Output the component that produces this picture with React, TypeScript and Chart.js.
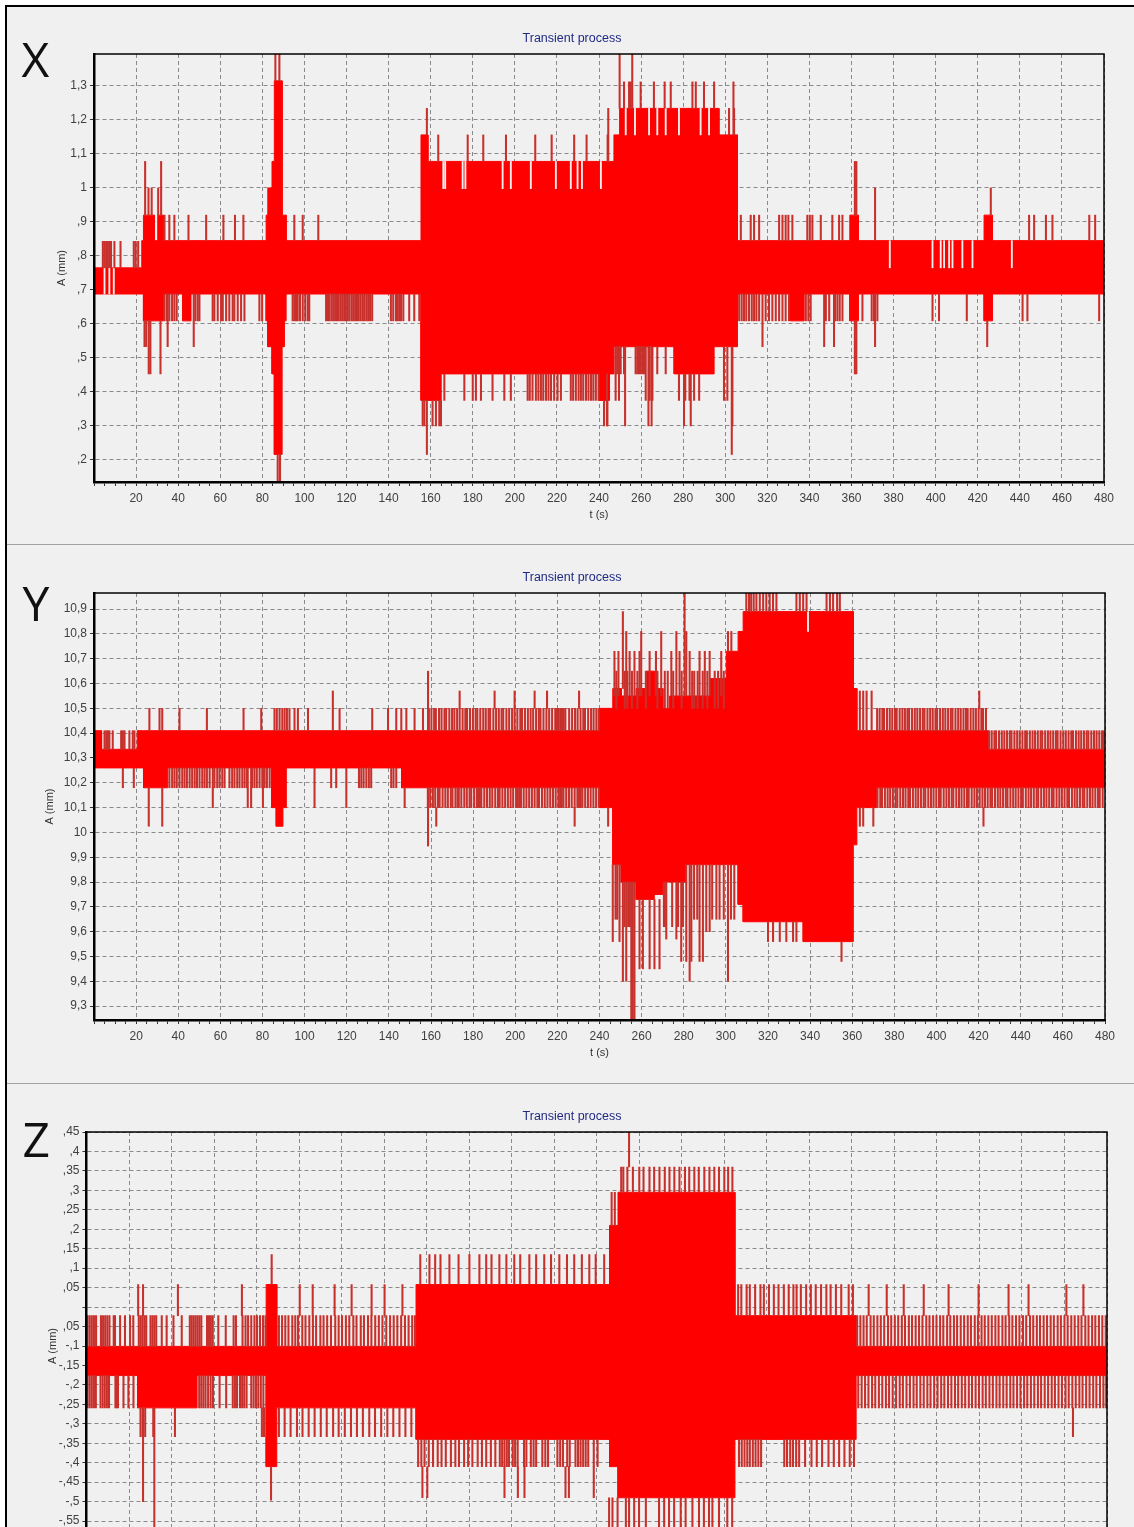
import React, { useEffect, useRef } from 'react';
import { Chart, registerables } from 'chart.js';

Chart.register(...registerables);

type Band = [number, number, number, number]; // [tStart, tEnd, low, high]
type Comb = [number, number, number[]]; // [low, high, times]

// ---------- common axis ----------
const TIME_LABELS = [20, 40, 60, 80, 100, 120, 140, 160, 180, 200, 220, 240, 260, 280, 300, 320, 340, 360, 380, 400, 420, 440, 460, 480];
const TIME_MIN = 0;
const TIME_MAX = 480;
const TIME_MINOR_STEP = 5;
const CHART_TITLE = 'Transient process';

// ---------- X ----------
const X_TICKS = [0.2, 0.3, 0.4, 0.5, 0.6, 0.7, 0.8, 0.9, 1.0, 1.1, 1.2, 1.3];
const X_TICK_LABELS = [',2', ',3', ',4', ',5', ',6', ',7', ',8', ',9', '1', '1,1', '1,2', '1,3'];
const X_RANGE = [0.135, 1.394];

const X_BANDS: Band[] = [
  [0, 22.7, 0.688, 0.765],
  [22.7, 23.5, 0.688, 0.845],
  [23.5, 28.7, 0.609, 0.92],
  [28.7, 30.3, 0.609, 0.845],
  [30.3, 33.0, 0.609, 0.92],
  [33.0, 42.2, 0.688, 0.845],
  [42.2, 46.1, 0.609, 0.845],
  [46.1, 81.8, 0.688, 0.845],
  [81.8, 82.6, 0.609, 0.92],
  [82.6, 84.6, 0.533, 1.0],
  [84.6, 85.7, 0.453, 1.078],
  [85.7, 89.4, 0.216, 1.315],
  [89.4, 90.5, 0.533, 0.92],
  [90.5, 91.3, 0.609, 0.92],
  [91.3, 155.4, 0.688, 0.845],
  [155.4, 158.7, 0.375, 1.156],
  [158.7, 165.0, 0.375, 1.078],
  [165.0, 240.0, 0.453, 1.078],
  [240.0, 245.0, 0.375, 1.078],
  [245.0, 247.1, 0.453, 1.078],
  [247.1, 249.8, 0.533, 1.156],
  [249.8, 275.7, 0.533, 1.234],
  [275.7, 294.7, 0.453, 1.234],
  [294.7, 297.0, 0.533, 1.234],
  [297.0, 305.8, 0.533, 1.156],
  [305.8, 331.0, 0.688, 0.845],
  [331.0, 337.5, 0.609, 0.845],
  [337.5, 359.2, 0.688, 0.845],
  [359.2, 363.3, 0.609, 0.92],
  [363.3, 423.0, 0.688, 0.845],
  [423.0, 427.0, 0.609, 0.92],
  [427.0, 480, 0.688, 0.845],
];

const X_COMBS: Comb[] = [
  [0.765, 0.843, [4.2, 5.0, 5.8, 6.6, 7.4, 8.1, 9.7, 12.6, 18.9, 19.8, 21.0]],
  [0.92, 1.078, [24.3, 31.9, 361.6, 362.3]],
  [0.92, 1.0, [25.9, 27.4, 30.5, 426.2]],
  [0.845, 0.92, [33.5, 35.8, 38.2, 44.9, 53.3, 61.5, 67.0, 71.0, 95.2, 99.2, 106.6,
    307.4, 312.1, 313.7, 316.1, 325.6, 327.2, 328.7, 330.0, 331.9, 339.0, 340.2, 341.4, 345.4, 350.9, 354.1, 355.7,
    444.4, 446.8, 452.4, 455.5, 473.0, 475.8]],
  [0.845, 1.0, [371.2]],
  [0.533, 0.609, [24.0, 24.8, 424.5]],
  [0.453, 0.609, [26.0, 26.8, 31.6, 361.6, 362.3]],
  [0.533, 0.688, [35.0, 47.4, 317.7, 347.0, 351.7, 371.2]],
  [0.609, 0.688, [33.5, 34.6, 35.8, 37.1, 38.2, 39.3, 48.2, 49.3, 50.1, 56.4, 57.2, 58.8, 60.4, 61.2, 62.8, 64.3,
    65.9, 66.7, 68.3, 69.9, 71.5, 78.6, 79.9, 94.4, 95.2, 96.0, 96.8, 97.9, 99.2, 100.4, 101.6, 102.3,
    110.3, 111.2, 112.0, 113.0, 113.8, 114.6, 115.5, 116.3, 117.2, 118.0, 118.9, 119.7, 120.6, 121.4, 122.4,
    123.2, 124.1, 125.0, 125.8, 126.7, 127.6, 128.4, 129.4, 130.3, 131.2, 132.2, 141.1, 142.2, 143.5, 144.3,
    145.1, 145.9, 147.0, 149.8, 152.2, 154.6,
    306.6, 307.8, 308.9, 310.0, 311.3, 312.6, 313.7, 314.8, 316.1, 319.2, 320.8, 322.4, 324.0, 325.6, 327.2,
    328.7, 330.3, 338.3, 339.5, 340.6, 347.8, 349.4, 352.2, 353.3, 354.4, 355.7, 365.2, 369.6, 370.7, 372.3,
    398.5, 401.6, 414.8, 441.3, 443.6, 477.7]],
  [1.315, 1.5, [86.2, 88.1]],
  [0.0, 0.216, [87.3, 88.4]],
  [1.078, 1.156, [163.6, 177.6, 185.0, 195.8, 209.7, 217.5, 228.2, 234.1, 244.1]],
  [1.078, 1.234, [244.4]],
  [1.156, 1.234, [158.2, 301.8, 304.2]],
  [1.234, 1.312, [251.9, 254.3, 255.1, 259.8, 266.1, 271.2, 274.1, 284.4, 286.0, 289.9, 294.7]],
  [1.156, 1.312, [303.9]],
  [1.234, 1.5, [249.8, 255.8]],
  [0.375, 0.453, [166.5, 176.0, 180.0, 181.5, 183.9, 189.4, 195.0, 198.1, 206.1, 207.1, 208.4, 210.0, 211.2,
    212.4, 213.5, 214.8, 216.0, 217.2, 218.7, 220.3, 221.9, 226.6, 227.7, 229.0, 230.3, 231.4, 232.5, 233.8,
    235.0, 236.2, 237.3, 238.5, 239.8, 278.0, 281.0, 283.0, 285.2, 287.6]],
  [0.30, 0.375, [156.2, 157.0, 160.9, 162.5, 164.1, 164.9, 242.4, 244.0]],
  [0.216, 0.375, [158.2]],
  [0.30, 0.453, [243.8, 280.4, 283.6]],
  [0.453, 0.533, [247.9, 248.7, 249.5, 250.3, 251.9, 257.4, 258.2, 259.0, 259.8, 260.6, 261.4, 267.7, 271.7]],
  [0.375, 0.533, [247.9, 249.5, 262.2, 264.1, 265.4, 299.4, 301.0]],
  [0.30, 0.533, [252.4, 263.5, 265.0, 303.4]],
  [0.216, 0.533, [303.1]],
];

const X_GAPS: Comb[] = [
  [0.688, 0.765, [5.0, 7.3, 9.4]],
  [0.998, 1.078, [166.0, 166.9, 175.2, 176.5, 194.2, 198.1, 207.6, 219.5, 226.6, 229.8, 231.9, 240.9]],
  [1.156, 1.234, [252.7, 257.1, 263.8, 267.7, 271.7, 278.0, 288.3, 292.3]],
  [0.765, 0.845, [378.2, 398.5, 402.4, 404.0, 406.4, 408.0, 412.7, 417.5, 436.2]],
];

// ---------- Y ----------
const Y_TICKS = [9.3, 9.4, 9.5, 9.6, 9.7, 9.8, 9.9, 10.0, 10.1, 10.2, 10.3, 10.4, 10.5, 10.6, 10.7, 10.8, 10.9];
const Y_TICK_LABELS = ['9,3', '9,4', '9,5', '9,6', '9,7', '9,8', '9,9', '10', '10,1', '10,2', '10,3', '10,4', '10,5', '10,6', '10,7', '10,8', '10,9'];
const Y_RANGE = [9.244, 10.965];

const Y_BANDS: Band[] = [
  [0, 3.6, 10.26, 10.41],
  [3.6, 20.5, 10.26, 10.335],
  [20.5, 23.5, 10.26, 10.41],
  [23.5, 35.0, 10.18, 10.41],
  [35.0, 84.4, 10.26, 10.41],
  [84.4, 86.5, 10.1, 10.41],
  [86.5, 89.7, 10.025, 10.41],
  [89.7, 91.3, 10.1, 10.41],
  [91.3, 146.0, 10.26, 10.41],
  [146.0, 240.0, 10.18, 10.41],
  [240.0, 246.3, 10.1, 10.5],
  [246.3, 250.3, 9.87, 10.58],
  [250.3, 257.4, 9.8, 10.55],
  [257.4, 262.2, 9.73, 10.58],
  [262.2, 266.0, 9.73, 10.65],
  [266.0, 270.1, 9.75, 10.58],
  [270.1, 273.3, 9.8, 10.5],
  [273.3, 281.2, 9.8, 10.55],
  [281.2, 292.3, 9.87, 10.55],
  [292.3, 300.2, 9.87, 10.62],
  [300.2, 305.8, 9.87, 10.73],
  [305.8, 308.2, 9.71, 10.81],
  [308.2, 336.7, 9.64, 10.89],
  [336.7, 360.5, 9.56, 10.89],
  [360.5, 362.2, 9.95, 10.58],
  [362.2, 371.5, 10.1, 10.41],
  [371.5, 424.5, 10.18, 10.41],
  [424.5, 480, 10.18, 10.335],
];

const Y_COMBS: Comb[] = [
  [10.335, 10.41, [5.0, 5.8, 6.6, 7.3, 8.9, 12.9, 13.7, 14.5, 16.8, 18.4, 19.2]],
  [10.18, 10.26, [13.7, 18.9, 35.8, 37.1, 38.2, 39.3, 40.6, 41.9, 43.0, 44.1, 45.4, 46.6, 47.8, 48.9, 50.1,
    51.4, 52.5, 53.6, 54.9, 57.2, 58.5, 59.6, 60.9, 62.0, 64.3, 65.6, 66.7, 68.0, 69.1, 70.4, 71.5, 72.6,
    75.1, 76.2, 77.3, 78.6, 79.9, 81.0, 82.1, 83.4, 112.6, 115.0, 125.8, 126.9, 128.0, 129.3, 130.5, 131.6,
    141.1, 142.2, 143.5]],
  [10.41, 10.5, [26.3, 31.1, 32.4, 40.6, 53.6, 71.0, 79.4, 85.7, 86.8, 88.1, 89.4, 90.5, 91.6, 92.8, 95.2, 96.8,
    101.6, 116.6, 132.1, 139.6, 143.5, 145.9, 148.3, 152.2, 156.2]],
  [10.41, 10.57, [113.4, 363.6, 365.2, 366.8, 369.2]],
  [10.1, 10.26, [56.4, 73.0, 74.6, 80.2, 104.7, 119.8]],
  [10.1, 10.18, [147.5]],
  [10.025, 10.18, [26.0, 32.4]],
  [9.945, 10.18, [158.6]],
  [10.41, 10.65, [158.6]],
  [10.41, 10.5, [159.0, 160.2, 161.5, 162.3, 163.8, 165.0, 166.4, 167.2, 168.7, 170.0, 171.1, 172.4, 173.6,
    175.0, 176.3, 177.1, 178.5, 179.9, 181.2, 182.0, 183.4, 184.8, 186.0, 187.3, 188.1, 189.6, 190.9, 192.2,
    193.5, 194.3, 195.8, 197.1, 198.5, 199.7, 201.0, 202.4, 203.2, 204.6, 206.0, 207.3, 208.5, 209.9, 211.2,
    212.0, 213.4, 214.8, 216.1, 217.5, 219.0, 219.8, 220.6, 221.4, 222.2, 223.0, 223.8, 225.6, 227.0, 228.4,
    229.6, 231.0, 232.3, 233.1, 234.6, 236.0, 237.2, 238.5, 239.6]],
  [10.1, 10.18, [158.5, 159.6, 160.9, 162.0, 163.3, 164.1, 165.5, 166.8, 168.0, 169.4, 170.2, 171.6, 172.6,
    173.2, 174.4, 175.8, 177.0, 178.3, 179.1, 180.5, 181.8, 182.5, 183.2, 183.9, 185.3, 186.6, 187.9, 189.1,
    190.5, 191.8, 192.6, 193.9, 195.2, 196.5, 197.8, 199.0, 200.4, 201.2, 201.9, 202.7, 204.0, 205.3, 206.6,
    207.9, 209.2, 210.5, 211.3, 212.7, 214.0, 215.3, 216.6, 217.9, 219.2, 220.5, 221.3, 222.1, 222.9, 224.2,
    225.5, 226.8, 228.2, 229.5, 230.3, 231.1, 231.9, 233.2, 234.5, 235.8, 237.1, 238.4, 239.7]],
  [10.5, 10.57, [173.6, 190.2, 199.7, 209.2, 215.1, 230.3, 420.3]],
  [10.025, 10.1, [162.5, 228.2, 244.1, 363.6, 365.2, 370.0, 422.3]],
  [10.55, 11.0, [280.4]],
  [10.58, 10.89, [251.1]],
  [10.55, 10.81, [252.7, 259.8, 269.3, 276.5, 281.2]],
  [10.73, 10.81, [301.0, 302.6]],
  [10.55, 10.73, [247.1, 249.0, 254.3, 256.6, 259.0, 263.8, 266.8, 274.1, 278.0, 282.8, 287.5, 290.0, 292.3, 297.8]],
  [10.5, 10.65, [248.0, 252.0, 253.2, 255.4, 258.0, 262.0, 267.5, 271.0, 272.4, 275.0, 279.0, 284.0, 285.0,
    286.6, 289.0, 291.2, 294.7, 296.3, 299.0]],
  [10.89, 11.0, [309.7, 311.0, 312.0, 313.2, 314.5, 316.1, 317.7, 319.2, 320.8, 322.4, 324.0, 333.5, 335.1,
    336.7, 338.3, 347.8, 349.4, 350.9, 352.8, 354.1]],
  [9.2, 9.8, [255.1, 255.8, 256.6]],
  [9.4, 9.8, [251.1, 252.7]],
  [9.45, 9.73, [259.0, 260.6, 263.8, 266.1, 268.5]],
  [9.57, 9.8, [271.7, 276.5]],
  [9.48, 9.8, [278.8]],
  [9.48, 9.87, [281.2, 283.6, 287.5, 289.1]],
  [9.4, 9.87, [282.8, 301.0]],
  [9.56, 9.87, [246.3, 249.5]],
  [9.6, 9.87, [290.7, 292.3]],
  [9.62, 9.8, [251.9, 253.6, 254.4, 270.6, 271.0, 274.5, 277.3, 279.6]],
  [9.65, 9.87, [247.6, 248.4, 284.9, 286.4, 293.5, 295.5, 297.0, 299.0, 302.4, 304.0]],
  [9.56, 9.64, [320.0, 322.4, 325.6, 328.7, 331.9, 333.5]],
  [9.48, 9.56, [354.9]],
  [10.41, 10.5, [371.8, 373.0, 374.3, 375.1, 376.5, 377.8, 379.0, 380.3, 381.1, 382.5, 383.8, 385.0, 386.2,
    387.0, 388.4, 389.7, 390.9, 392.2, 393.5, 394.3, 395.7, 397.0, 398.2, 399.5, 400.3, 401.7, 403.0, 404.2,
    405.5, 406.8, 407.6, 409.0, 410.3, 411.5, 412.8, 414.0, 414.8, 416.2, 417.5, 418.7, 420.0, 421.3, 422.1, 423.5]],
  [10.1, 10.18, [372.0, 373.3, 374.1, 375.5, 376.8, 378.0, 379.3, 380.6, 381.4, 382.8, 384.1, 385.3, 386.6,
    387.4, 388.8, 390.1, 391.3, 392.6, 393.9, 394.7, 396.1, 397.4, 398.6, 399.9, 401.2, 402.0, 403.4, 404.7,
    405.9, 407.2, 408.0, 409.4, 410.7, 411.9, 413.2, 414.5, 415.3, 416.7, 418.0, 419.2, 420.5, 421.8, 423.0,
    424.3, 425.6, 426.4, 427.8, 429.1, 430.3, 431.6, 432.9, 433.7, 435.1, 436.4, 437.6, 438.9, 440.2, 441.0,
    442.4, 443.7, 444.9, 446.2, 447.5, 448.3, 449.7, 451.0, 452.2, 453.5, 454.8, 455.6, 457.0, 458.3, 459.5,
    460.8, 462.1, 462.9, 464.3, 465.6, 466.8, 468.1, 469.4, 470.2, 471.6, 472.9, 474.1, 475.4, 476.7, 477.5, 478.9]],
  [10.335, 10.41, [425.0, 426.2, 427.5, 428.3, 429.7, 431.0, 432.2, 433.5, 434.8, 435.6, 437.0, 438.3, 439.5,
    440.8, 442.1, 442.9, 444.3, 445.6, 446.8, 448.1, 449.4, 450.2, 451.6, 452.9, 454.1, 455.4, 456.7, 457.5,
    458.9, 460.2, 461.4, 462.7, 464.0, 464.8, 466.2, 467.5, 468.7, 470.0, 471.3, 472.1, 473.5, 474.8, 476.0,
    477.3, 478.6, 479.4]],
];

const Y_GAPS: Comb[] = [
  [10.81, 10.89, [339.0]],
];

// ---------- Z ----------
const Z_TICKS = [-0.55, -0.5, -0.45, -0.4, -0.35, -0.3, -0.25, -0.2, -0.15, -0.1, -0.05, 0, 0.05, 0.1, 0.15, 0.2, 0.25, 0.3, 0.35, 0.4, 0.45];
const Z_TICK_LABELS = ['-,55', '-,5', '-,45', '-,4', '-,35', '-,3', '-,25', '-,2', '-,15', '-,1', ',05', '', ',05', ',1', ',15', ',2', ',25', ',3', ',35', ',4', ',45'];
const Z_RANGE = [-0.65, 0.45];

const Z_BANDS: Band[] = [
  [0, 24, -0.176, -0.101],
  [24, 52, -0.259, -0.101],
  [52, 84.5, -0.176, -0.101],
  [84.5, 89.5, -0.41, 0.058],
  [89.5, 155, -0.259, -0.101],
  [155, 246, -0.34, 0.058],
  [246, 250, -0.41, 0.21],
  [250, 305, -0.49, 0.295],
  [305, 362, -0.34, -0.022],
  [362, 480, -0.176, -0.101],
];

const Z_COMBS: Comb[] = [
  [-0.101, -0.022, [0.5, 1.5, 2.5, 3.5, 4.5, 6.8, 7.8, 8.8, 9.8, 10.8, 12.8, 13.4, 15.8, 18.1, 20.5, 22.0,
    24.6, 25.5, 26.4, 27.3, 28.1, 30.1, 31.0, 31.9, 32.8, 35.4, 37.7, 40.9, 44.8, 48.6, 49.5, 50.4, 51.3,
    52.2, 53.1, 54.0, 56.7, 57.6, 58.5, 59.4, 62.0, 65.5, 69.2, 70.3, 73.4, 74.8, 76.0, 77.5, 79.0, 80.2,
    81.6, 83.0, 84.2, 90.5, 92.0, 93.5, 95.0, 96.8, 98.2, 99.5, 101.5, 103.0, 104.8, 106.5, 108.0, 110.0,
    111.5, 113.2, 115.0, 117.0, 118.6, 120.2, 122.0, 123.6, 125.5, 127.0, 129.0, 130.5, 132.4, 134.0, 135.8,
    137.5, 139.2, 141.0, 142.8, 144.5, 146.2, 148.0, 149.8, 151.5, 153.2, 154.5]],
  [-0.259, -0.176, [0.5, 1.5, 2.5, 3.5, 4.4, 6.6, 7.6, 8.6, 9.6, 10.6, 13.6, 14.2, 14.8, 17.4, 19.7, 22.1,
    53.0, 54.0, 55.0, 56.0, 57.2, 58.4, 59.5, 62.6, 65.7, 68.8, 69.8, 70.8, 72.2, 73.2, 74.2, 75.3, 77.5,
    78.6, 79.7, 80.8, 82.0, 83.2]],
  [-0.333, -0.259, [25.4, 26.4, 27.6, 31.4, 41.6, 82.5, 83.5, 464.0]],
  [-0.5, -0.259, [26.6]],
  [-0.7, -0.259, [31.9]],
  [-0.022, 0.058, [24.3, 26.6, 43.0, 73.1, 100.3, 106.4, 116.7, 124.7, 134.1, 140.2, 148.6,
    367.9, 376.4, 384.4, 393.8, 405.5, 419.6, 433.7, 443.1, 460.9, 468.9]],
  [0.058, 0.135, [87.1]],
  [-0.496, -0.41, [86.8]],
  [-0.333, -0.259, [90.5, 93.2, 96.0, 99.0, 101.6, 104.5, 107.3, 110.2, 113.0, 116.0, 118.6, 121.5, 124.4,
    127.2, 130.0, 133.0, 135.7, 138.6, 141.5, 144.3, 147.2, 150.0, 152.8]],
  [0.058, 0.135, [157.0, 161.3, 164.0, 166.5, 170.7, 175.0, 180.1, 184.8, 188.0, 190.5, 194.2, 197.5, 201.2,
    204.0, 208.3, 211.5, 215.3, 218.5, 222.4, 226.0, 229.4, 233.0, 236.5, 239.5, 243.5]],
  [-0.41, -0.34, [156.0, 157.5, 159.0, 161.0, 163.0, 165.2, 167.0, 169.0, 171.4, 173.5, 175.2, 177.6, 179.5,
    181.5, 184.0, 186.0, 188.0, 190.2, 192.3, 194.4, 195.5, 196.6, 197.7, 198.7, 200.5, 201.6, 202.8, 205.8,
    206.9, 209.0, 210.3, 211.5, 214.4, 215.8, 217.1, 221.5, 222.8, 224.1, 226.1, 227.3, 230.0, 231.2, 232.4,
    233.6, 234.8, 236.0, 238.6, 240.4]],
  [-0.49, -0.41, [158.0, 160.3, 196.6, 202.9, 206.0, 225.3, 226.9, 238.6]],
  [0.295, 0.36, [251.5, 252.5, 254.4, 257.0, 260.0, 262.0, 264.8, 267.0, 269.5, 272.0, 274.2, 276.5, 278.9,
    281.5, 283.5, 285.9, 288.0, 290.6, 293.0, 295.3, 297.5, 300.0, 301.8, 303.8]],
  [0.21, 0.295, [247.0, 248.5]],
  [0.36, 0.5, [255.2]],
  [-0.7, -0.49, [245.8, 247.4, 249.8, 253.7, 255.2, 257.6, 259.9, 263.1, 269.3, 271.7, 274.0, 276.4, 279.5,
    281.8, 285.0, 288.1, 290.4, 292.8, 294.4, 297.5, 301.4, 303.7]],
  [-0.41, -0.34, [306.9, 308.2, 309.5, 310.8, 312.0, 313.4, 314.7, 316.0, 317.3, 328.2, 329.5, 331.0, 332.3,
    333.8, 335.2, 338.0, 341.0, 343.5, 346.0, 349.0, 351.5, 354.0, 356.5, 359.0, 361.0]],
  [-0.022, 0.058, [306.5, 308.0, 310.5, 312.0, 314.5, 317.0, 318.6, 321.0, 323.3, 325.5, 328.0, 330.3, 332.5,
    334.0, 336.0, 338.5, 340.7, 343.0, 345.5, 348.0, 350.0, 352.5, 355.0, 358.5, 360.5]],
  [-0.101, -0.022, [362.5, 364.0, 365.5, 367.0, 368.8, 370.3, 372.0, 373.6, 375.2, 377.0, 378.5, 380.2, 381.8,
    383.5, 385.0, 386.8, 388.3, 390.0, 391.6, 393.2, 395.0, 396.5, 398.2, 399.8, 401.5, 403.0, 404.8, 406.3,
    408.0, 409.5, 411.2, 412.8, 414.5, 416.0, 417.8, 419.3, 421.0, 422.5, 424.2, 425.8, 427.5, 429.0, 430.8,
    432.3, 434.0, 435.5, 437.2, 438.8, 440.5, 442.0, 443.8, 445.3, 447.0, 448.5, 450.2, 451.8, 453.5, 455.0,
    456.8, 458.3, 460.0, 461.5, 463.2, 464.8, 466.5, 468.0, 469.8, 471.3, 473.0, 474.5, 476.2, 477.8, 479.4]],
  [-0.259, -0.176, [363.0, 364.6, 366.2, 367.8, 369.5, 371.0, 372.7, 374.3, 376.0, 377.5, 379.2, 380.8, 382.5,
    384.0, 385.7, 387.3, 389.0, 390.5, 392.2, 393.8, 395.5, 397.0, 398.7, 400.3, 402.0, 403.5, 405.2, 406.8,
    408.5, 410.0, 411.7, 413.3, 415.0, 416.5, 418.2, 419.8, 421.5, 423.0, 424.7, 426.3, 428.0, 429.5, 431.2,
    432.8, 434.5, 436.0, 437.7, 439.3, 441.0, 442.5, 444.2, 445.8, 447.5, 449.0, 450.7, 452.3, 454.0, 455.5,
    457.2, 458.8, 460.5, 462.0, 463.7, 465.3, 467.0, 468.5, 470.2, 471.8, 473.5, 475.0, 476.7, 478.3, 479.6]],
];

const Z_GAPS: Comb[] = [];

// ---------- styles ----------
const RED = '#ff0000';
const SPIKE = '#c8302c';
const BG = '#f0f0f0';
const GRID = '#8a8a8a';
const TEXT = '#404040';
const TITLE = '#202a85';
const FONT = 'Liberation Sans, Arial, sans-serif';

interface PanelCfg {
  top: number;
  height: number;
  bands: Band[];
  combs: Comb[];
  gaps: Comb[];
  yTicks: number[];
  yLabels: string[];
  yRange: number[];
  padLeft: number;
  axisW: number;
  padRight: number;
  padTop: number;
  padBottom: number;
  titleY: number;
}

const framePlugin = {
  id: 'frameLines',
  afterDatasetsDraw(chart: any) {
    const { ctx, chartArea: a } = chart;
    ctx.save();
    ctx.strokeStyle = '#000';
    ctx.lineWidth = 1.5;
    ctx.beginPath();
    ctx.moveTo(a.left, a.top);
    ctx.lineTo(a.right, a.top);
    ctx.lineTo(a.right, a.bottom);
    ctx.stroke();
    ctx.restore();
  },
};

function buildConfig(c: PanelCfg): any {
  const upper: any[] = [];
  const lower: any[] = [];
  c.bands.forEach(([t0, t1, lo, hi]) => {
    upper.push({ x: t0, y: hi }, { x: t1, y: hi });
    lower.push({ x: t0, y: lo }, { x: t1, y: lo });
  });
  const spikes = c.combs.flatMap(([lo, hi, ts]) => ts.map((t) => ({ x: t, y: [lo, hi] })));
  const gaps = c.gaps.flatMap(([lo, hi, ts]) => ts.map((t) => ({ x: t, y: [lo, hi] })));
  const minor: number[] = [];
  for (let v = TIME_MIN; v <= TIME_MAX; v += TIME_MINOR_STEP) minor.push(v);

  return {
    type: 'line',
    data: {
      datasets: [
        { type: 'line', data: upper, borderColor: RED, backgroundColor: RED, borderWidth: 1, pointRadius: 0, fill: '+1', order: 3, tension: 0 },
        { type: 'line', data: lower, borderColor: RED, backgroundColor: RED, borderWidth: 1, pointRadius: 0, fill: false, order: 3, tension: 0 },
        { type: 'bar', data: gaps, backgroundColor: BG, barThickness: 1.2, grouped: false, order: 2 },
        { type: 'bar', data: spikes, backgroundColor: SPIKE, barThickness: 1.4, grouped: false, order: 1 },
      ],
    },
    options: {
      responsive: false,
      animation: false,
      events: [],
      layout: { padding: { left: c.padLeft, right: c.padRight, top: c.padTop, bottom: c.padBottom } },
      plugins: {
        legend: { display: false },
        tooltip: { enabled: false },
        title: { display: false },
      },
      scales: {
        x: {
          type: 'linear',
          min: TIME_MIN,
          max: TIME_MAX,
          offset: false,
          afterBuildTicks: (axis: any) => {
            axis.ticks = minor.map((v) => ({ value: v }));
          },
          afterFit: (axis: any) => {
            axis.height = 45;
          },
          ticks: {
            autoSkip: false,
            maxRotation: 0,
            minRotation: 0,
            padding: 5,
            color: TEXT,
            font: { family: FONT, size: 12 },
            callback: (v: number) => (TIME_LABELS.includes(v) ? String(v) : ''),
          },
          grid: {
            offset: false,
            color: (ctx: any) => (ctx.tick && ctx.tick.value % 20 === 0 ? GRID : 'rgba(0,0,0,0)'),
            tickColor: '#333',
            tickLength: 4,
            lineWidth: 1,
          },
          border: { display: true, color: '#000', width: 2.5, dash: [4, 3], z: 1 },
          title: {
            display: true,
            text: 't (s)',
            color: '#333',
            font: { family: FONT, size: 11 },
            padding: { top: 0, bottom: 5.4 },
          },
        },
        y: {
          type: 'linear',
          min: c.yRange[0],
          max: c.yRange[1],
          afterBuildTicks: (axis: any) => {
            axis.ticks = c.yTicks.map((v) => ({ value: v }));
          },
          afterFit: (axis: any) => {
            axis.width = c.axisW;
          },
          ticks: {
            padding: 3,
            color: TEXT,
            font: { family: FONT, size: 12 },
            callback: (_v: number, i: number) => c.yLabels[i] ?? '',
          },
          grid: { color: GRID, tickColor: '#333', tickLength: 4, lineWidth: 1 },
          border: { display: true, color: '#000', width: 2.5, dash: [4, 3], z: 1 },
          title: {
            display: true,
            text: 'A (mm)',
            color: '#333',
            font: { family: FONT, size: 11 },
            padding: { top: 5.4, bottom: 0 },
          },
        },
      },
    },
    plugins: [framePlugin],
  };
}

function Panel({ cfg }: { cfg: PanelCfg }) {
  const ref = useRef<HTMLCanvasElement>(null);
  useEffect(() => {
    if (!ref.current) return;
    const chart = new Chart(ref.current, buildConfig(cfg));
    return () => chart.destroy();
  }, []);
  return (
    <>
      <canvas
        ref={ref}
        width={1134}
        height={cfg.height}
        style={{ position: 'absolute', left: 0, top: cfg.top, width: 1134, height: cfg.height, display: 'block' }}
      />
      <div
        style={{
          position: 'absolute',
          left: 0,
          width: 1144,
          top: cfg.titleY - 7.5,
          textAlign: 'center',
          fontFamily: FONT,
          fontSize: 12.5,
          lineHeight: '15px',
          color: TITLE,
        }}
      >
        {CHART_TITLE}
      </div>
    </>
  );
}

const PANELS: PanelCfg[] = [
  { top: 7, height: 537, bands: X_BANDS, combs: X_COMBS, gaps: X_GAPS, yTicks: X_TICKS, yLabels: X_TICK_LABELS, yRange: X_RANGE, padLeft: 50, axisW: 44, padRight: 30, padTop: 47, padBottom: 17, titleY: 38 },
  { top: 545, height: 538, bands: Y_BANDS, combs: Y_COMBS, gaps: Y_GAPS, yTicks: Y_TICKS, yLabels: Y_TICK_LABELS, yRange: Y_RANGE, padLeft: 38, axisW: 56, padRight: 29, padTop: 48, padBottom: 18, titleY: 577 },
  { top: 1084, height: 538, bands: Z_BANDS, combs: Z_COMBS, gaps: Z_GAPS, yTicks: Z_TICKS, yLabels: Z_TICK_LABELS, yRange: Z_RANGE, padLeft: 41, axisW: 45.5, padRight: 27, padTop: 48, padBottom: 17, titleY: 1116 },
];

const LETTERS = [
  { text: 'X', left: 21.5, baseline: 78 },
  { text: 'Y', left: 22.5, baseline: 622 },
  { text: 'Z', left: 22.5, baseline: 1158 },
];

export default function App() {
  return (
    <div style={{ position: 'fixed', left: 0, top: 0, width: 1134, height: 1527, overflow: 'hidden', background: '#fff' }}>
      <div
        style={{
          position: 'absolute',
          left: 5,
          top: 5,
          width: 1200,
          height: 1600,
          borderLeft: '2px solid #000',
          borderTop: '2px solid #000',
          background: BG,
        }}
      />
      <div style={{ position: 'absolute', left: 7, top: 544, width: 1127, height: 1, background: '#a0a0a0' }} />
      <div style={{ position: 'absolute', left: 7, top: 1083, width: 1127, height: 1, background: '#a0a0a0' }} />
      {PANELS.map((p, i) => (
        <Panel key={i} cfg={p} />
      ))}
      {LETTERS.map((l) => (
        <div
          key={l.text}
          style={{
            position: 'absolute',
            left: l.left,
            top: l.baseline - 42.6,
            fontFamily: 'Open Sans, sans-serif',
            fontSize: 48,
            lineHeight: '48px',
            color: '#111',
          }}
        >
          {l.text}
        </div>
      ))}
    </div>
  );
}
